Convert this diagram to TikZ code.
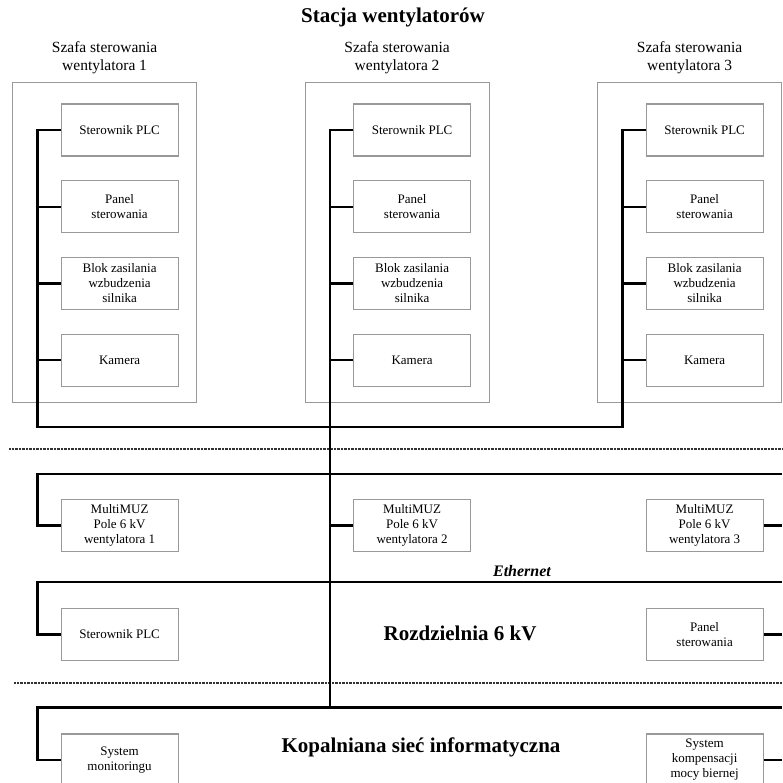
\documentclass[tikz,border=0pt]{standalone}
\usepackage{fontspec}
\setmainfont{Liberation Serif}
\usetikzlibrary{positioning}

\begin{document}
\begin{tikzpicture}[x=1pt,y=-1pt,node distance=23.5pt,
		blok/.style={draw=gray!80,line width=1.2pt,minimum width=117pt,minimum height=52pt,
			align=center,inner sep=1pt,font=\fontsize{13}{15}\selectfont},
		szafa/.style={draw=gray!80,line width=1.2pt,minimum width=184pt,minimum height=320pt},
		podpis/.style={align=center,font=\fontsize{15.5}{18}\selectfont},
		tytul/.style={font=\fontsize{21}{24}\selectfont\bfseries},
		siec/.style={line width=2.4pt},
		granica/.style={line width=1.3pt,gray!40!black,dash pattern=on 0.7pt off 0.7pt}
	]
	\useasboundingbox (0,0) rectangle (782,783);

	\coordinate (pr) at (782,0);
	\coordinate (zb) at (0,427);
	\coordinate (rA) at (0,474);
	\coordinate (rB) at (0,582);
	\coordinate (rC) at (0,707.5);
	\coordinate (wA) at (0,525.5);
	\coordinate (wB) at (0,634.5);
	\coordinate (wC) at (0,760);

	\node[tytul] (stacja) at (393,17.5) {Stacja wentylatorów};

	\foreach \i/\x in {1/12,2/304.5,3/597}{
		\node[szafa,anchor=north west] (s\i) at (\x,82) {};
		\node[podpis,above=5pt of s\i] (os\i) {Szafa sterowania\\wentylatora \i};
		\draw
			node[blok,anchor=north west] (plc\i) at ([xshift=48.5pt,yshift=-21.5pt]s\i.north west) {Sterownik PLC}
			node[blok,below=of plc\i] (pan\i) {Panel\\sterowania}
			node[blok,below=of pan\i] (zas\i) {Blok zasilania\\wzbudzenia\\silnika}
			node[blok,below=of zas\i] (kam\i) {Kamera}
			node[blok] (muz\i) at (plc\i |- wA) {MultiMUZ\\Pole 6 kV\\wentylatora \i}
		;
		\coordinate (g\i) at ([xshift=-23pt]plc\i.west);
		\foreach \b in {pan,zas,kam}
			\draw[siec] (\b\i.west) -- (\b\i.west -| g\i);
	}

	\draw
		node[blok] (plcR) at (plc1 |- wB) {Sterownik PLC}
		node[blok] (panR) at (plc3 |- wB) {Panel\\sterowania}
		node[blok] (sysM) at (plc1 |- wC) {System\\monitoringu}
		node[blok] (sysK) at (plc3 |- wC) {System\\kompensacji\\mocy biernej}
		node[tytul] (rozdz) at (460,633) {Rozdzielnia 6 kV}
		node[tytul] (kop) at (421,747) {Kopalniana sieć informatyczna}
		node[font=\fontsize{16}{18}\selectfont\bfseries\itshape] (eth) at (522,571) {Ethernet}
	;

	\draw[granica] (9,449) -- (782,449);
	\draw[granica] (14,683) -- (782,683);

	\draw[siec] (plc1.west) -- (g1) -- (g1 |- zb) -- (g3 |- zb) -- (g3) -- (plc3.west);
	\draw[siec] (plc2.west) -- (g2) -- (g2 |- rC);

	\draw[siec] (muz1.west) -- (muz1.west -| g1) -- (g1 |- rA) -- (pr |- rA);
	\draw[siec] (muz2.west) -- (muz2.west -| g2);
	\draw[siec] (muz3.east) -- (muz3.east -| pr);

	\draw[siec] (plcR.west) -- (plcR.west -| g1) -- (g1 |- rB) -- (pr |- rB);
	\draw[siec] (panR.east) -- (panR.east -| pr);

	\draw[siec] (sysM.west) -- (sysM.west -| g1) -- (g1 |- rC) -- (pr |- rC);
	\draw[siec] (sysK.east) -- (sysK.east -| pr);
\end{tikzpicture}
\end{document}
